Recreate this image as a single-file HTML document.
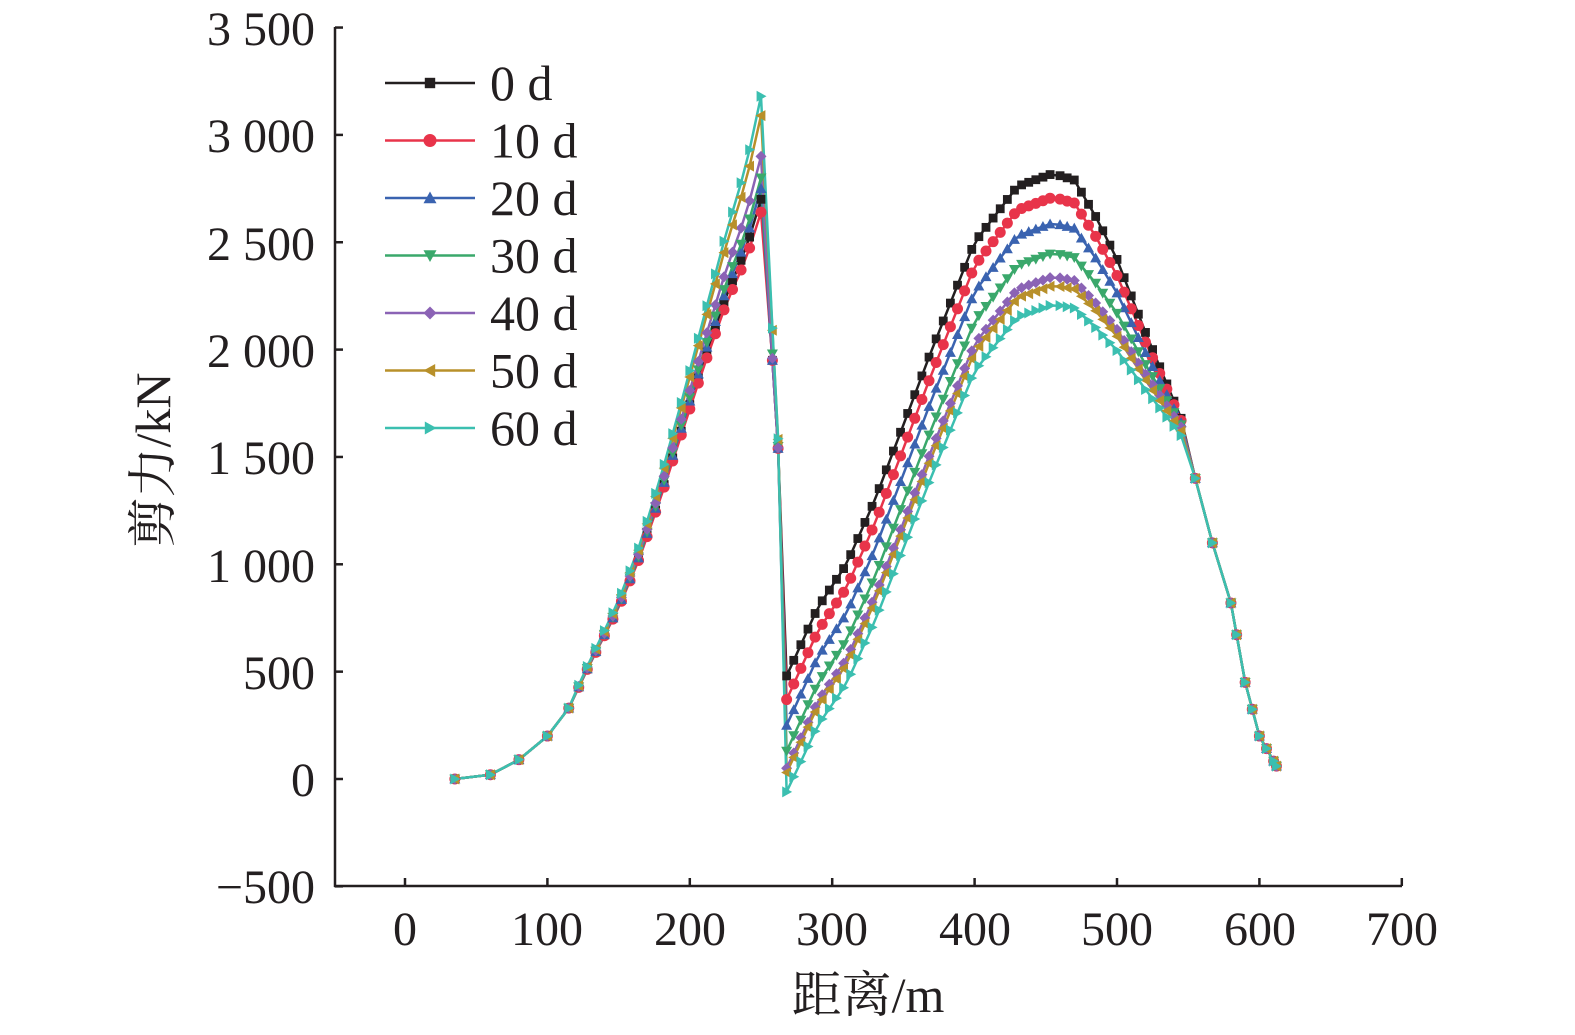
<!DOCTYPE html>
<html><head><meta charset="utf-8"><style>
html,body{margin:0;padding:0;background:#fff;}
svg{display:block;}
text{font-family:"Liberation Serif","Noto Serif CJK SC",serif;fill:#231f20;}
</style></head><body>
<svg id="s" width="1575" height="1035" viewBox="0 0 1575 1035" xmlns="http://www.w3.org/2000/svg">
<g stroke="#231f20" stroke-width="2.5" fill="none">
<line x1="335" y1="27" x2="335" y2="887"/>
<line x1="334" y1="886" x2="1402" y2="886"/>
</g>
<g id="ticks" stroke="#231f20" stroke-width="2.5"></g>
<g font-size="48" text-anchor="end">
<text x="315" y="45">3 500</text>
<text x="315" y="152">3 000</text>
<text x="315" y="260">2 500</text>
<text x="315" y="367">2 000</text>
<text x="315" y="474">1 500</text>
<text x="315" y="582">1 000</text>
<text x="315" y="689">500</text>
<text x="315" y="796">0</text>
<text x="315" y="903">−500</text>
</g>
<g font-size="48" text-anchor="middle">
<text x="405" y="945">0</text>
<text x="547" y="945">100</text>
<text x="690" y="945">200</text>
<text x="832" y="945">300</text>
<text x="975" y="945">400</text>
<text x="1117" y="945">500</text>
<text x="1260" y="945">600</text>
<text x="1402" y="945">700</text>
</g>
<text x="868" y="1012" font-size="50" text-anchor="middle">距离/m</text>
<text transform="translate(170,460) rotate(-90)" font-size="50" text-anchor="middle">剪力/kN</text>
<g id="data"></g>
<g id="leg"></g>
</svg>
<script>
const NS="http://www.w3.org/2000/svg";
const X=v=>405+v*1.424, Y=v=>779-v*0.2147;
const tk=document.getElementById('ticks');
function ln(p,a,b,c,d,col,w){const l=document.createElementNS(NS,'line');l.setAttribute('x1',a);l.setAttribute('y1',b);l.setAttribute('x2',c);l.setAttribute('y2',d);if(col){l.setAttribute('stroke',col);l.setAttribute('stroke-width',w);}p.appendChild(l);}
for(let v=-500;v<=3500;v+=500)ln(tk,335,Y(v),343,Y(v));
for(let v=0;v<=700;v+=100)ln(tk,X(v),886,X(v),878);
function interp(pts,x){for(let i=0;i<pts.length-1;i++){if(x>=pts[i][0]&&x<=pts[i+1][0]){const t=(x-pts[i][0])/(pts[i+1][0]-pts[i][0]);return pts[i][1]+t*(pts[i+1][1]-pts[i][1]);}}return pts[pts.length-1][1];}
const seg1=[[35,0],[60,20],[80,90],[100,200],[115,330],[130,540],[150,800],[165,1040],[180,1330],[195,1640],[210,1950],[225,2240],[240,2480],[250,2700]];
const rise=[[268,480],[290,800],[310,1000],[330,1300],[350,1650],[370,2000],[400,2500],[430,2760],[455,2820]];
const fall=[[455,2820],[470,2790],[485,2620],[500,2420],[520,2080],[545,1680]];
const tail=[[545,1650],[567,1100],[580,820],[590,450],[600,200],[612,60]];
const S=[
{c:"#231f20",m:"sq",P1:2700,S:480,P:2820,d1:1950,E:1680},
{c:"#e8344a",m:"ci",P1:2640,S:370,P:2710,d1:1950,E:1670},
{c:"#3a63b0",m:"tu",P1:2750,S:250,P:2590,d1:1950,E:1660},
{c:"#3aa86b",m:"td",P1:2800,S:130,P:2450,d1:1980,E:1650},
{c:"#8b63b5",m:"di",P1:2900,S:50,P:2340,d1:1960,E:1640},
{c:"#b8902a",m:"tl",P1:3090,S:30,P:2300,d1:2090,E:1620},
{c:"#3bbfb0",m:"tr",P1:3180,S:-60,P:2210,d1:2100,E:1600}];
function mk(g,type,x,y,c,sz){let e;const r=sz;
if(type=="sq"){e=document.createElementNS(NS,'rect');e.setAttribute('x',x-r*0.8);e.setAttribute('y',y-r*0.8);e.setAttribute('width',r*1.6);e.setAttribute('height',r*1.6);}
else if(type=="ci"){e=document.createElementNS(NS,'circle');e.setAttribute('cx',x);e.setAttribute('cy',y);e.setAttribute('r',r);}
else{e=document.createElementNS(NS,'polygon');let p;
if(type=="tu")p=[[0,-r],[r,r*0.8],[-r,r*0.8]];
if(type=="td")p=[[0,r],[r,-r*0.8],[-r,-r*0.8]];
if(type=="tl")p=[[-r,0],[r*0.8,-r],[r*0.8,r]];
if(type=="tr")p=[[r,0],[-r*0.8,-r],[-r*0.8,r]];
if(type=="di")p=[[0,-r],[r,0],[0,r],[-r,0]];
e.setAttribute('points',p.map(q=>(x+q[0])+','+(y+q[1])).join(' '));}
e.setAttribute('fill',c);g.appendChild(e);}
const dg=document.getElementById('data');
S.forEach(s=>{const pts=[];
[35,60,80,100,115].forEach(x=>pts.push([x,interp(seg1,x)]));
for(let x=122;x<=250;x+=6){let y=interp(seg1,Math.min(x,250));y=y*(1+(s.P1/2700-1)*Math.pow(x/250,3));pts.push([x,y]);}
pts[pts.length-1]=[250,s.P1];
pts.push([258,s.d1]);pts.push([262,1540+(s.d1-1950)*0.3]);
for(let x=268;x<=455;x+=5){const g=(interp(rise,x)-480)/(2820-480);pts.push([x,s.S+(s.P-s.S)*g]);}
for(let x=460;x<=545;x+=5){const h=(2820-interp(fall,x))/(2820-1680);pts.push([x,s.P+(s.E-s.P)*h]);}
[555,567,580,584,590,595,600,605,610,612].forEach(x=>pts.push([x,interp(tail,x)]));
const pl=document.createElementNS(NS,'polyline');
pl.setAttribute('points',pts.map(p=>X(p[0]).toFixed(1)+','+Y(p[1]).toFixed(1)).join(' '));
pl.setAttribute('fill','none');pl.setAttribute('stroke',s.c);pl.setAttribute('stroke-width',2.5);dg.appendChild(pl);
s.pts=pts;});
S.forEach(s=>s.pts.forEach(p=>mk(dg,s.m,X(p[0]),Y(p[1]),s.c,5.5)));
const lg=document.getElementById('leg');
const labs=["0 d","10 d","20 d","30 d","40 d","50 d","60 d"];
S.forEach((s,i)=>{const y=83+i*57.5;ln(lg,385,y,475,y,s.c,2.5);mk(lg,s.m,430,y,s.c,6.5);
const t=document.createElementNS(NS,'text');t.setAttribute('x',490);t.setAttribute('y',y+17);t.setAttribute('font-size',50);t.textContent=labs[i];lg.appendChild(t);});
</script>
</body></html>
